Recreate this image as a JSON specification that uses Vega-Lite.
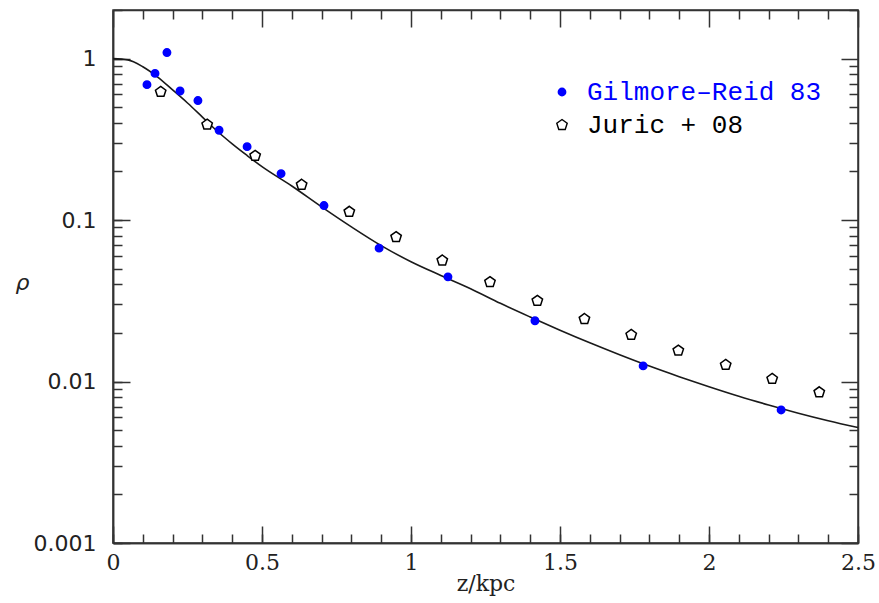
{
  "$schema": "https://vega.github.io/schema/vega-lite/v6.json",
  "width": 745,
  "height": 533,
  "autosize": "none",
  "padding": {"left": 113, "top": 10, "right": 21, "bottom": 60},
  "background": "white",
  "config": {
    "view": {"stroke": "#333", "strokeWidth": 1.5},
    "axis": {"grid": false, "domainColor": "#333", "domainWidth": 1.5, "tickColor": "#333", "tickWidth": 1.5, "labelFlush": false, "labelOverlap": false, "labelColor": "#222", "titleColor": "#222", "titleFontWeight": "normal"}
  },
  "datasets": {
    "curve": [
      {"z": 0, "rho": 1.0}, {"z": 0.05, "rho": 0.982}, {"z": 0.1, "rho": 0.891}, {"z": 0.15, "rho": 0.769},
      {"z": 0.2, "rho": 0.640}, {"z": 0.25, "rho": 0.531}, {"z": 0.3, "rho": 0.4345}, {"z": 0.35, "rho": 0.3548},
      {"z": 0.4, "rho": 0.2965}, {"z": 0.45, "rho": 0.2512}, {"z": 0.5, "rho": 0.2143}, {"z": 0.6, "rho": 0.1626},
      {"z": 0.7, "rho": 0.1208}, {"z": 0.8, "rho": 0.0908}, {"z": 0.9, "rho": 0.0695}, {"z": 1.0, "rho": 0.0552},
      {"z": 1.1, "rho": 0.0454}, {"z": 1.2, "rho": 0.0376}, {"z": 1.3, "rho": 0.0305}, {"z": 1.4, "rho": 0.0251},
      {"z": 1.5, "rho": 0.0208}, {"z": 1.6, "rho": 0.01738}, {"z": 1.7, "rho": 0.01466}, {"z": 1.8, "rho": 0.01247},
      {"z": 1.9, "rho": 0.01072}, {"z": 2.0, "rho": 0.00929}, {"z": 2.1, "rho": 0.00811}, {"z": 2.2, "rho": 0.00716},
      {"z": 2.3, "rho": 0.00637}, {"z": 2.4, "rho": 0.00572}, {"z": 2.5, "rho": 0.00519}
    ],
    "gilmore": [
      {"z": 0.114, "rho": 0.69, "src": "Gilmore–Reid 83"},
      {"z": 0.141, "rho": 0.81, "src": "Gilmore–Reid 83"},
      {"z": 0.181, "rho": 1.09, "src": "Gilmore–Reid 83"},
      {"z": 0.225, "rho": 0.63, "src": "Gilmore–Reid 83"},
      {"z": 0.285, "rho": 0.55, "src": "Gilmore–Reid 83"},
      {"z": 0.356, "rho": 0.36, "src": "Gilmore–Reid 83"},
      {"z": 0.45, "rho": 0.285, "src": "Gilmore–Reid 83"},
      {"z": 0.564, "rho": 0.194, "src": "Gilmore–Reid 83"},
      {"z": 0.708, "rho": 0.123, "src": "Gilmore–Reid 83"},
      {"z": 0.893, "rho": 0.067, "src": "Gilmore–Reid 83"},
      {"z": 1.124, "rho": 0.0445, "src": "Gilmore–Reid 83"},
      {"z": 1.416, "rho": 0.0238, "src": "Gilmore–Reid 83"},
      {"z": 1.779, "rho": 0.0125, "src": "Gilmore–Reid 83"},
      {"z": 2.242, "rho": 0.00667, "src": "Gilmore–Reid 83"}
    ],
    "juric": [
      {"z": 0.160, "rho": 0.622, "src": "Juric + 08"},
      {"z": 0.316, "rho": 0.390, "src": "Juric + 08"},
      {"z": 0.477, "rho": 0.250, "src": "Juric + 08"},
      {"z": 0.633, "rho": 0.1655, "src": "Juric + 08"},
      {"z": 0.793, "rho": 0.1126, "src": "Juric + 08"},
      {"z": 0.950, "rho": 0.0785, "src": "Juric + 08"},
      {"z": 1.105, "rho": 0.0562, "src": "Juric + 08"},
      {"z": 1.265, "rho": 0.0413, "src": "Juric + 08"},
      {"z": 1.424, "rho": 0.0316, "src": "Juric + 08"},
      {"z": 1.582, "rho": 0.0244, "src": "Juric + 08"},
      {"z": 1.739, "rho": 0.01945, "src": "Juric + 08"},
      {"z": 1.897, "rho": 0.01555, "src": "Juric + 08"},
      {"z": 2.056, "rho": 0.01268, "src": "Juric + 08"},
      {"z": 2.212, "rho": 0.01038, "src": "Juric + 08"},
      {"z": 2.370, "rho": 0.00858, "src": "Juric + 08"}
    ]
  },
  "layer": [
    {
      "data": {"name": "curve"},
      "mark": {"type": "line", "color": "#1a1a1a", "strokeWidth": 1.6, "interpolate": "monotone"},
      "encoding": {
        "x": {
          "field": "z", "type": "quantitative",
          "scale": {"domain": [0, 2.5], "nice": false, "zero": false},
          "axis": {
            "orient": "bottom", "tickSize": -17,
            "values": [0, 0.5, 1, 1.5, 2, 2.5], "format": "~g",
            "labelFont": "DejaVu Serif", "labelFontSize": 22, "labelPadding": 26,
            "title": "z/kpc", "titleFont": "DejaVu Serif", "titleFontSize": 22,
            "titleBaseline": "alphabetic", "titleY": 47
          }
        },
        "y": {
          "field": "rho", "type": "quantitative",
          "scale": {"type": "log", "domain": [0.001, 2], "nice": false},
          "axis": {
            "orient": "left", "tickSize": -17,
            "values": [0.001, 0.01, 0.1, 1], "format": "~g",
            "labelFont": "DejaVu Sans", "labelFontSize": 22, "labelPadding": 34,
            "title": "ρ", "titleFont": "DejaVu Sans", "titleFontSize": 22, "titleFontStyle": "italic",
            "titleAngle": 0, "titleAlign": "center", "titleBaseline": "middle", "titleX": -91, "titleY": 272
          }
        }
      }
    },
    {
      "data": {"name": "gilmore"},
      "mark": {"type": "point", "filled": true, "strokeWidth": 1.5, "opacity": 1},
      "encoding": {
        "x": {
          "field": "z", "type": "quantitative",
          "axis": {
            "orient": "bottom", "labels": false, "title": null, "tickSize": -9,
            "values": [0, 0.1, 0.2, 0.3, 0.4, 0.5, 0.6, 0.7, 0.8, 0.9, 1, 1.1, 1.2, 1.3, 1.4, 1.5, 1.6, 1.7, 1.8, 1.9, 2, 2.1, 2.2, 2.3, 2.4, 2.5]
          }
        },
        "y": {
          "field": "rho", "type": "quantitative",
          "axis": {
            "orient": "left", "labels": false, "title": null, "tickSize": -9,
            "values": [0.001, 0.002, 0.003, 0.004, 0.005, 0.006, 0.007, 0.008, 0.009, 0.01, 0.02, 0.03, 0.04, 0.05, 0.06, 0.07, 0.08, 0.09, 0.1, 0.2, 0.3, 0.4, 0.5, 0.6, 0.7, 0.8, 0.9, 1, 2]
          }
        },
        "fill": {
          "field": "src", "type": "nominal",
          "scale": {"domain": ["Gilmore–Reid 83", "Juric + 08"], "range": ["#0000ff", "white"]},
          "legend": {
            "title": null, "orient": "none", "legendX": 436, "legendY": 69,
            "labelFont": "Liberation Mono", "labelFontSize": 26, "labelOffset": 12, "labelLimit": 400,
            "rowPadding": 7, "padding": 0, "symbolStrokeWidth": 1.4,
            "labelColor": {"expr": "datum.label == 'Juric + 08' ? 'black' : '#0000ff'"}
          }
        },
        "stroke": {
          "field": "src", "type": "nominal",
          "scale": {"domain": ["Gilmore–Reid 83", "Juric + 08"], "range": ["#0000ff", "black"]}
        },
        "shape": {
          "field": "src", "type": "nominal",
          "scale": {"domain": ["Gilmore–Reid 83", "Juric + 08"], "range": ["circle", "M0,-1L0.951,-0.309L0.588,0.809L-0.588,0.809L-0.951,-0.309Z"]}
        },
        "size": {
          "field": "src", "type": "nominal",
          "scale": {"domain": ["Gilmore–Reid 83", "Juric + 08"], "range": [55, 120]}
        }
      }
    },
    {
      "data": {"name": "juric"},
      "mark": {"type": "point", "filled": true, "strokeWidth": 1.5, "opacity": 1},
      "encoding": {
        "x": {
          "field": "z", "type": "quantitative",
          "axis": {
            "orient": "top", "labels": false, "title": null,
            "values": [0, 0.1, 0.2, 0.3, 0.4, 0.5, 0.6, 0.7, 0.8, 0.9, 1, 1.1, 1.2, 1.3, 1.4, 1.5, 1.6, 1.7, 1.8, 1.9, 2, 2.1, 2.2, 2.3, 2.4, 2.5],
            "tickSize": {"condition": {"test": "abs(datum.value*2-round(datum.value*2))<1e-6", "value": -17}, "value": -9}
          }
        },
        "y": {
          "field": "rho", "type": "quantitative",
          "axis": {
            "orient": "right", "labels": false, "title": null,
            "values": [0.001, 0.002, 0.003, 0.004, 0.005, 0.006, 0.007, 0.008, 0.009, 0.01, 0.02, 0.03, 0.04, 0.05, 0.06, 0.07, 0.08, 0.09, 0.1, 0.2, 0.3, 0.4, 0.5, 0.6, 0.7, 0.8, 0.9, 1, 2],
            "tickSize": {"condition": {"test": "abs(log(datum.value)/LN10-round(log(datum.value)/LN10))<1e-6", "value": -17}, "value": -9}
          }
        },
        "fill": {"field": "src", "type": "nominal"},
        "stroke": {"field": "src", "type": "nominal"},
        "shape": {"field": "src", "type": "nominal"},
        "size": {"field": "src", "type": "nominal"}
      }
    }
  ],
  "resolve": {"axis": {"x": "independent", "y": "independent"}}
}
